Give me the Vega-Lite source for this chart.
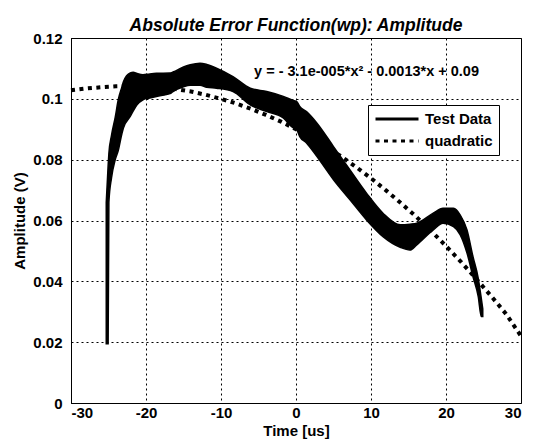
{
  "$schema": "https://vega.github.io/schema/vega-lite/v6.json",
  "width": 450,
  "height": 365,
  "autosize": {"type": "none"},
  "padding": {"left": 71, "top": 38, "right": 16, "bottom": 42},
  "background": "white",
  "title": {"text": "Absolute Error Function(wp): Amplitude", "font": "Liberation Sans", "fontSize": 17.5, "fontWeight": "bold", "fontStyle": "italic", "color": "black", "anchor": "middle", "offset": -3},
  "config": {
    "view": {"stroke": "black", "strokeWidth": 1},
    "axis": {"labelFont": "Liberation Sans", "labelFontSize": 15, "labelFontWeight": "bold", "labelColor": "black", "titleFont": "Liberation Sans", "titleFontSize": 15, "titleFontWeight": "bold", "titleColor": "black", "domainColor": "black", "grid": true, "gridColor": "black", "gridDash": [2, 3], "gridOpacity": 1, "gridWidth": 1, "ticks": false}
  },
  "datasets": {
    "band": [
      {"t": -25.3, "lo": 0.0195, "hi": 0.066},
      {"t": -25.05, "lo": 0.0195, "hi": 0.078},
      {"t": -24.95, "lo": 0.066, "hi": 0.082},
      {"t": -24.6, "lo": 0.074, "hi": 0.088},
      {"t": -24.1, "lo": 0.080, "hi": 0.094},
      {"t": -23.7, "lo": 0.083, "hi": 0.0997},
      {"t": -23.2, "lo": 0.0887, "hi": 0.104},
      {"t": -23.0, "lo": 0.0905, "hi": 0.1057},
      {"t": -22.1, "lo": 0.0942, "hi": 0.1085},
      {"t": -21.7, "lo": 0.096, "hi": 0.1087},
      {"t": -21.2, "lo": 0.098, "hi": 0.1083},
      {"t": -20.4, "lo": 0.0997, "hi": 0.1079},
      {"t": -19.5, "lo": 0.1003, "hi": 0.1082},
      {"t": -18.6, "lo": 0.1008, "hi": 0.1084},
      {"t": -16.8, "lo": 0.1017, "hi": 0.1085},
      {"t": -16.4, "lo": 0.1024, "hi": 0.1088},
      {"t": -15.0, "lo": 0.104, "hi": 0.1105},
      {"t": -14.1, "lo": 0.1045, "hi": 0.1112},
      {"t": -12.8, "lo": 0.1045, "hi": 0.1117},
      {"t": -11.9, "lo": 0.1038, "hi": 0.1113},
      {"t": -10.6, "lo": 0.1035, "hi": 0.1101},
      {"t": -8.4, "lo": 0.1024, "hi": 0.1073},
      {"t": -6.1, "lo": 0.098, "hi": 0.1035},
      {"t": -3.9, "lo": 0.0958, "hi": 0.1024},
      {"t": -1.7, "lo": 0.0937, "hi": 0.1008},
      {"t": -0.4, "lo": 0.0905, "hi": 0.0995},
      {"t": 0.1, "lo": 0.0898, "hi": 0.0991},
      {"t": 0.5, "lo": 0.0876, "hi": 0.0975},
      {"t": 1.4, "lo": 0.0855, "hi": 0.0958},
      {"t": 2.8, "lo": 0.081, "hi": 0.092},
      {"t": 5.0, "lo": 0.0734, "hi": 0.0843},
      {"t": 7.2, "lo": 0.0668, "hi": 0.0766},
      {"t": 9.4, "lo": 0.0602, "hi": 0.069},
      {"t": 11.6, "lo": 0.0547, "hi": 0.0624},
      {"t": 13.9, "lo": 0.0512, "hi": 0.0586},
      {"t": 15.2, "lo": 0.0503, "hi": 0.0588},
      {"t": 16.1, "lo": 0.052, "hi": 0.0591},
      {"t": 18.3, "lo": 0.0569, "hi": 0.0624},
      {"t": 19.6, "lo": 0.0591, "hi": 0.064},
      {"t": 21.0, "lo": 0.058, "hi": 0.064},
      {"t": 21.9, "lo": 0.0553, "hi": 0.0618},
      {"t": 22.8, "lo": 0.0493, "hi": 0.0569},
      {"t": 23.6, "lo": 0.0415, "hi": 0.0481},
      {"t": 24.3, "lo": 0.035, "hi": 0.041},
      {"t": 24.7, "lo": 0.0284, "hi": 0.0345},
      {"t": 24.9, "lo": 0.0284, "hi": 0.031}
    ],
    "quad": [
      {"t": -30, "v": 0.1028, "series": "quadratic"},
      {"t": -28, "v": 0.1034, "series": "quadratic"},
      {"t": -26, "v": 0.1038, "series": "quadratic"},
      {"t": -24, "v": 0.1041, "series": "quadratic"},
      {"t": -22, "v": 0.1042, "series": "quadratic"},
      {"t": -20, "v": 0.1041, "series": "quadratic"},
      {"t": -18, "v": 0.1037, "series": "quadratic"},
      {"t": -16, "v": 0.1032, "series": "quadratic"},
      {"t": -14, "v": 0.1024, "series": "quadratic"},
      {"t": -12, "v": 0.1013, "series": "quadratic"},
      {"t": -10, "v": 0.1, "series": "quadratic"},
      {"t": -8, "v": 0.0985, "series": "quadratic"},
      {"t": -6, "v": 0.0967, "series": "quadratic"},
      {"t": -4, "v": 0.0947, "series": "quadratic"},
      {"t": -2, "v": 0.0925, "series": "quadratic"},
      {"t": 0, "v": 0.09, "series": "quadratic"},
      {"t": 2, "v": 0.0873, "series": "quadratic"},
      {"t": 4, "v": 0.0843, "series": "quadratic"},
      {"t": 6, "v": 0.0811, "series": "quadratic"},
      {"t": 8, "v": 0.0776, "series": "quadratic"},
      {"t": 10, "v": 0.0739, "series": "quadratic"},
      {"t": 12, "v": 0.0699, "series": "quadratic"},
      {"t": 14, "v": 0.0657, "series": "quadratic"},
      {"t": 16, "v": 0.0613, "series": "quadratic"},
      {"t": 18, "v": 0.0566, "series": "quadratic"},
      {"t": 20, "v": 0.0516, "series": "quadratic"},
      {"t": 22, "v": 0.0464, "series": "quadratic"},
      {"t": 24, "v": 0.0409, "series": "quadratic"},
      {"t": 26, "v": 0.0352, "series": "quadratic"},
      {"t": 28, "v": 0.0293, "series": "quadratic"},
      {"t": 30, "v": 0.022, "series": "quadratic"}
    ],
    "eq": [
      {"t": 9.4, "v": 0.1089, "label": "y = - 3.1e-005*x² - 0.0013*x + 0.09"}
    ]
  },
  "layer": [
    {
      "data": {"name": "band"},
      "mark": {"type": "area", "color": "black", "stroke": "black", "strokeWidth": 1.5, "interpolate": "monotone"},
      "encoding": {
        "x": {"field": "t", "type": "quantitative", "scale": {"domain": [-30, 30], "nice": false}, "axis": {"values": [-30, -20, -10, 0, 10, 20, 30], "title": "Time [us]", "titlePadding": 3, "labelPadding": 2, "labelExpr": "replace(format(datum.value, 'd'), '\u2212', '-')"}},
        "y": {"field": "lo", "type": "quantitative", "scale": {"domain": [0, 0.12], "nice": false}, "axis": {"values": [0, 0.02, 0.04, 0.06, 0.08, 0.1, 0.12], "title": "Amplitude (V)", "titlePadding": 5, "labelPadding": 9, "labelExpr": "datum.value === 0 ? '0' : replace(format(datum.value, '.2f'), /0$/, '')"}},
        "y2": {"field": "hi"}
      }
    },
    {
      "data": {"name": "quad"},
      "mark": {"type": "line", "color": "black", "strokeWidth": 4, "strokeCap": "butt"},
      "encoding": {
        "x": {"field": "t", "type": "quantitative"},
        "y": {"field": "v", "type": "quantitative"},
        "strokeDash": {
          "field": "series", "type": "nominal",
          "scale": {"domain": ["Test Data", "quadratic"], "range": [[1, 0], [4, 4.5]]},
          "legend": {"title": null, "orient": "none", "legendX": 297, "legendY": 67, "fillColor": "white", "strokeColor": "black", "padding": 6, "symbolType": "stroke", "symbolSize": 1849, "clipHeight": 16, "symbolStrokeWidth": 3, "symbolStrokeColor": "black", "labelFont": "Liberation Sans", "labelFontSize": 15, "labelFontWeight": "bold", "labelColor": "black", "labelOffset": 5, "rowPadding": 6}
        }
      }
    },
    {
      "data": {"name": "eq"},
      "mark": {"type": "text", "font": "Liberation Sans", "fontSize": 14.5, "fontWeight": "bold", "color": "black", "align": "center", "baseline": "middle"},
      "encoding": {
        "x": {"field": "t", "type": "quantitative"},
        "y": {"field": "v", "type": "quantitative"},
        "text": {"field": "label"}
      }
    }
  ]
}
